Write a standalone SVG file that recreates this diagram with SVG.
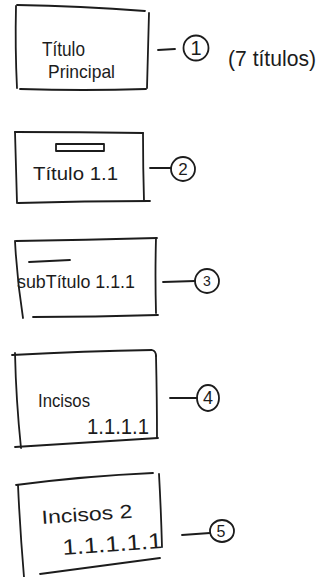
<svg xmlns="http://www.w3.org/2000/svg" width="333" height="577" viewBox="0 0 333 577">
  <style>
    .ink { fill: none; stroke: #1c1c1c; stroke-width: 1.8; stroke-linecap: round; stroke-linejoin: round; }
    .txt { font-family: "Liberation Sans", "DejaVu Sans", sans-serif; fill: #1c1c1c; }
    .num { font-family: "Liberation Sans", "DejaVu Sans", sans-serif; fill: #1c1c1c; text-anchor: middle; dominant-baseline: central; }
  </style>
  <rect width="333" height="577" fill="#ffffff"/>

  <!-- Level 1: main title -->
  <g id="node-titulo-principal">
    <path class="ink" d="M17 5 Q80 6 145 11"/>
    <path class="ink" d="M16 6 Q15 48 17 88"/>
    <path class="ink" d="M149 13 Q148 50 147 88"/>
    <path class="ink" d="M20 89 Q84 91 146 89"/>
    <text class="txt" x="42" y="56" font-size="20" textLength="43" lengthAdjust="spacingAndGlyphs">Título</text>
    <text class="txt" x="48" y="78" font-size="19" textLength="67" lengthAdjust="spacingAndGlyphs">Principal</text>
  </g>
  <g id="badge-1">
    <circle class="ink" cx="196" cy="48" r="12.5" stroke-width="2"/>
    <text class="num" x="196" y="48" font-size="20">1</text>
  </g>
  <text id="note-titulos" class="txt" x="228" y="66" font-size="22" textLength="88" lengthAdjust="spacingAndGlyphs">(7 títulos)</text>

  <!-- Level 2 -->
  <g id="node-titulo-1-1">
    <path class="ink" d="M15 132 Q80 132 143 133"/>
    <path class="ink" d="M15 132 Q16 170 17 203"/>
    <path class="ink" d="M143 133 Q143 168 144 201"/>
    <path class="ink" d="M18 203 Q85 201 150 201"/>
    <rect class="ink" x="56" y="144" width="48" height="7" stroke-width="1.5"/>
    <text class="txt" x="33" y="180" font-size="19" textLength="85" lengthAdjust="spacingAndGlyphs">Título 1.1</text>
  </g>
  <g id="badge-2">
    <circle class="ink" cx="183" cy="169" r="12"/>
    <text class="num" x="183" y="169" font-size="17">2</text>
  </g>

  <!-- Level 3 -->
  <g id="node-subtitulo">
    <path class="ink" d="M16 241 Q85 240 157 238"/>
    <path class="ink" d="M15 241 Q17 280 23 318"/>
    <path class="ink" d="M156 238 Q155 276 156 313"/>
    <path class="ink" d="M33 317 Q95 317 158 315"/>
    <path class="ink" d="M29 262 L70 260"/>
    <text class="txt" x="17" y="288" font-size="18" textLength="118" lengthAdjust="spacingAndGlyphs">subTítulo 1.1.1</text>
  </g>
  <g id="badge-3">
    <circle class="ink" cx="207" cy="281" r="12"/>
    <text class="num" x="207" y="281" font-size="14">3</text>
  </g>

  <!-- Level 4 -->
  <g id="node-incisos">
    <path class="ink" d="M12 355 Q85 351 152 350 Q156 351 156 356"/>
    <path class="ink" d="M15 353 Q16 400 21 448"/>
    <path class="ink" d="M156 356 Q157 400 157 438"/>
    <path class="ink" d="M15 447 Q90 442 158 438"/>
    <text class="txt" x="38" y="407" font-size="18" textLength="52" lengthAdjust="spacingAndGlyphs">Incisos</text>
    <text class="txt" x="87" y="434" font-size="22" textLength="62" lengthAdjust="spacingAndGlyphs">1.1.1.1</text>
  </g>
  <g id="badge-4">
    <ellipse class="ink" cx="208" cy="398" rx="11" ry="13"/>
    <text class="num" x="208" y="398" font-size="18">4</text>
  </g>

  <!-- Level 5 -->
  <g id="node-incisos-2">
    <path class="ink" d="M16 485 Q85 476 153 473"/>
    <path class="ink" d="M18 485 Q20 530 24 577"/>
    <path class="ink" d="M159 474 Q161 510 162 547"/>
    <path class="ink" d="M40 574 Q100 566 160 558"/>
    <text class="txt" x="42" y="524" font-size="19" textLength="91" lengthAdjust="spacingAndGlyphs" transform="rotate(-4 42 524)">Incisos 2</text>
    <text class="txt" x="63" y="555" font-size="22" textLength="100" lengthAdjust="spacingAndGlyphs" transform="rotate(-4 63 555)">1.1.1.1.1</text>
  </g>
  <g id="badge-5">
    <ellipse class="ink" cx="222" cy="531" rx="12" ry="11"/>
    <text class="num" x="221" y="531" font-size="16">5</text>
  </g>

  <!-- Connectors from each box to its numbered badge -->
  <g id="connectors">
    <path class="ink" d="M158 50 L175 49"/>
    <path class="ink" d="M150 168 L171 168"/>
    <path class="ink" d="M163 282 L195 281"/>
    <path class="ink" d="M170 398 L197 398"/>
    <path class="ink" d="M182 535 L210 533"/>
  </g>
</svg>
